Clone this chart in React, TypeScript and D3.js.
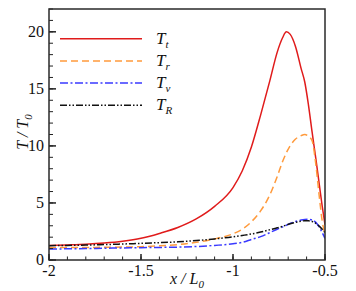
import * as d3 from "d3";

// x / L0 positions shared by all four series
const xs = [-2, -1.9, -1.8, -1.7, -1.6, -1.5, -1.4, -1.3, -1.2, -1.1, -1.0, -0.95, -0.9, -0.85, -0.8, -0.76, -0.73, -0.71, -0.69, -0.66, -0.63, -0.61, -0.59, -0.57, -0.55, -0.53, -0.515, -0.5];

const Tt = [1.27, 1.32, 1.38, 1.48, 1.64, 1.9, 2.33, 2.85, 3.6, 4.7, 6.35, 7.8, 9.9, 12.7, 15.7, 18.2, 19.5, 20.0, 19.8, 18.7, 16.8, 15.6, 13.6, 11.2, 8.9, 6.5, 4.7, 3.1];
const Tr = [1.08, 1.09, 1.1, 1.11, 1.13, 1.17, 1.24, 1.35, 1.55, 1.85, 2.3, 2.7, 3.35, 4.3, 5.7, 7.3, 8.65, 9.4, 10.0, 10.6, 10.9, 11.0, 10.85, 10.45, 8.4, 5.4, 3.4, 2.2];
const Tv = [0.96, 0.98, 1.0, 1.03, 1.06, 1.08, 1.1, 1.13, 1.18, 1.28, 1.42, 1.55, 1.8, 2.05, 2.4, 2.7, 2.9, 3.05, 3.2, 3.38, 3.5, 3.55, 3.57, 3.5, 3.3, 2.85, 2.4, 1.9];
const TR = [1.25, 1.28, 1.31, 1.35, 1.4, 1.46, 1.52, 1.59, 1.7, 1.85, 2.03, 2.15, 2.28, 2.45, 2.65, 2.82, 2.95, 3.07, 3.17, 3.3, 3.4, 3.45, 3.44, 3.38, 3.22, 2.95, 2.7, 2.4];

const xTicks = [-2, -1.5, -1, -0.5];
const xTickLabels = ["-2", "-1.5", "-1", "-0.5"];
const yTicks = [0, 5, 10, 15, 20];

const seriesDefs = [
  { key: "t", values: Tt, color: "#e01b1b", dash: "" },
  { key: "r", values: Tr, color: "#ff9a3c", dash: "7,4" },
  { key: "v", values: Tv, color: "#3a3aff", dash: "8,2.5,2,2.5" },
  { key: "R", values: TR, color: "#111111", dash: "7,2,1.5,2,1.5,2" },
];

const W = 356;
const H = 291;
const m = { left: 49, right: 31, top: 9, bottom: 31 };
const FONT = "Liberation Serif, Times New Roman, DejaVu Serif, serif";

export default function App() {
  const x = d3.scaleLinear().domain([-2, -0.5]).range([m.left, W - m.right]);
  const y = d3.scaleLinear().domain([0, 22]).range([H - m.bottom, m.top]);

  const line = d3
    .line<number>()
    .x((_, i) => x(xs[i]))
    .y((d) => y(d))
    .curve(d3.curveMonotoneX);

  const xMinor = d3.range(-2, -0.5 + 1e-9, 0.1);
  const yMinor = d3.range(0, 22.001, 1);
  const x0 = m.left;
  const y0 = H - m.bottom;

  return (
    <div style={{ position: "absolute", left: 0, top: 0 }}>
      <svg width={W} height={H} style={{ display: "block" }}>
        <defs>
          <clipPath id="plot">
            <rect x={m.left} y={m.top} width={W - m.left - m.right} height={y0 - m.top} />
          </clipPath>
        </defs>

        <g clipPath="url(#plot)">
          {seriesDefs.map((s) => (
            <path
              key={s.key}
              d={line(s.values) ?? ""}
              fill="none"
              stroke={s.color}
              strokeWidth={1.5}
              strokeDasharray={s.dash || undefined}
            />
          ))}
        </g>

        {/* minor + major ticks, pointing inwards */}
        {xMinor.map((v) => (
          <line key={"xm" + v} x1={x(v)} x2={x(v)} y1={y0} y2={y0 - 3.5} stroke="#222" strokeWidth={1} />
        ))}
        {xTicks.map((v) => (
          <line key={"xM" + v} x1={x(v)} x2={x(v)} y1={y0} y2={y0 - 6} stroke="#222" strokeWidth={1.5} />
        ))}
        {yMinor.map((v) => (
          <line key={"ym" + v} x1={x0} x2={x0 + 4} y1={y(v)} y2={y(v)} stroke="#222" strokeWidth={1} />
        ))}
        {yTicks.map((v) => (
          <line key={"yM" + v} x1={x0} x2={x0 + 7} y1={y(v)} y2={y(v)} stroke="#222" strokeWidth={1.5} />
        ))}

        <rect
          x={m.left}
          y={m.top}
          width={W - m.left - m.right}
          height={y0 - m.top}
          fill="none"
          stroke="#2a2a2a"
          strokeWidth={1.5}
        />

        {xTicks.map((v, i) => (
          <text key={"xl" + v} x={x(v)} y={y0 + 16} textAnchor="middle" fontFamily={FONT} fontSize={16} fill="#111">
            {xTickLabels[i]}
          </text>
        ))}
        {yTicks.map((v) => (
          <text key={"yl" + v} x={x0 - 5} y={y(v) + 5} textAnchor="end" fontFamily={FONT} fontSize={16} fill="#111">
            {v}
          </text>
        ))}

        <text x={187} y={284} textAnchor="middle" fontFamily={FONT} fontSize={16} fontStyle="italic" fill="#111">
          x / L<tspan fontSize={11} dy={4}>0</tspan>
        </text>
        <text
          transform="translate(28,132) rotate(-90)"
          textAnchor="middle"
          fontFamily={FONT}
          fontSize={16}
          fontStyle="italic"
          fill="#111"
        >
          T / T<tspan fontSize={11} dy={4}>0</tspan>
        </text>

        {/* legend */}
        {seriesDefs.map((s, i) => {
          const ly = 38.7 + i * 22.2;
          return (
            <g key={"lg" + s.key}>
              <line
                x1={60}
                x2={142}
                y1={ly}
                y2={ly}
                stroke={s.color}
                strokeWidth={1.5}
                strokeDasharray={s.dash || undefined}
              />
              <text x={156} y={ly + 5} fontFamily={FONT} fontSize={17} fontStyle="italic" fill="#111">
                T<tspan fontSize={11} dy={4}>{s.key}</tspan>
              </text>
            </g>
          );
        })}
      </svg>
    </div>
  );
}
